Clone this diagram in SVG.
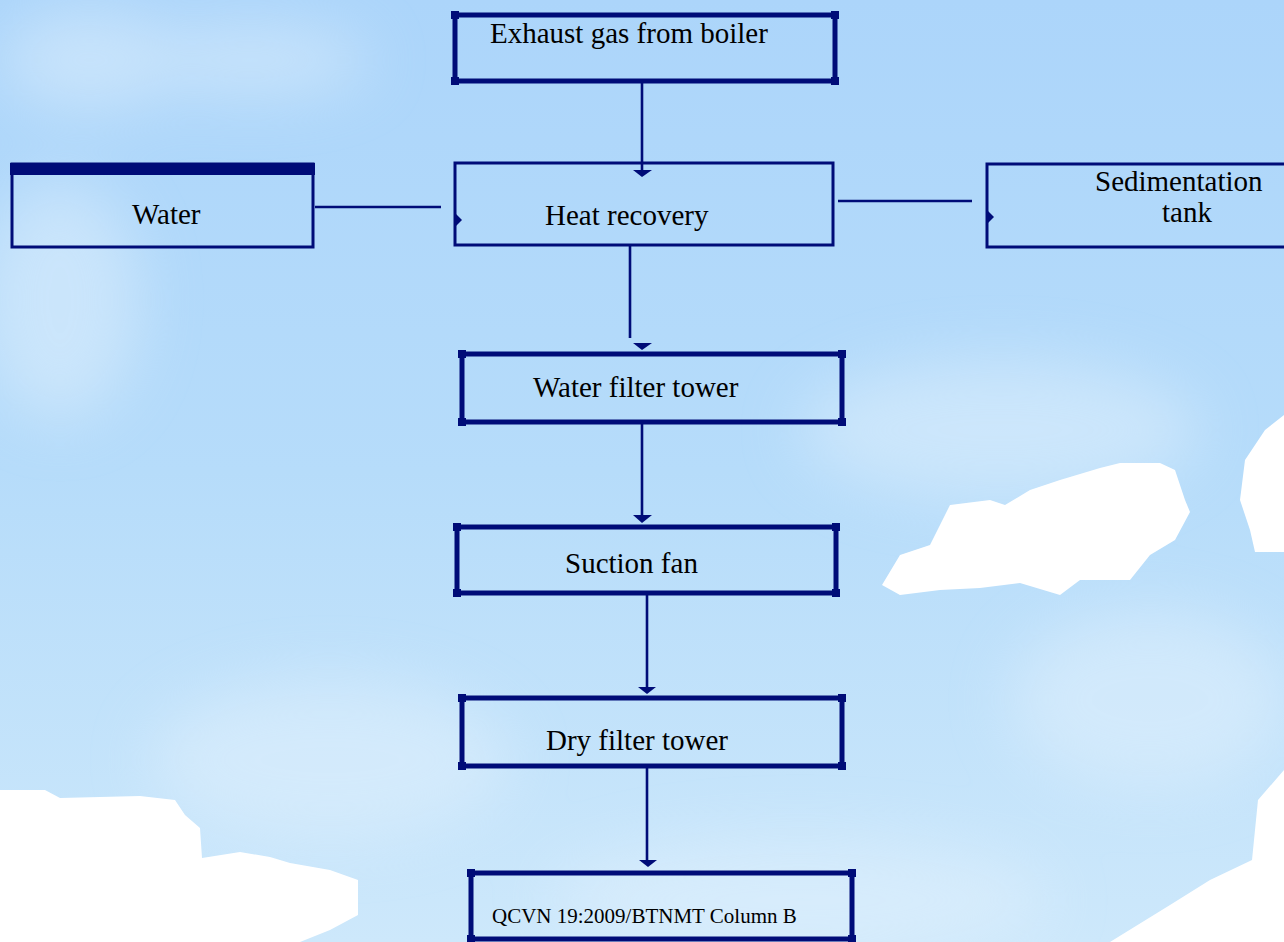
<svg xmlns="http://www.w3.org/2000/svg" width="1284" height="942" viewBox="0 0 1284 942">
<defs>
<linearGradient id="sky" x1="0" y1="0" x2="0" y2="1">
<stop offset="0" stop-color="#acd5fa"/>
<stop offset="0.5" stop-color="#b6dcfa"/>
<stop offset="1" stop-color="#cde8fb"/>
</linearGradient>
<filter id="blur" x="-50%" y="-50%" width="200%" height="200%"><feGaussianBlur stdDeviation="30"/></filter>
<style>
.thick{fill:none;stroke:#000c78;stroke-width:5}
.thin{fill:none;stroke:#000c78;stroke-width:3}
.dot{fill:#000c78}
.line{stroke:#000c78;stroke-width:2.6;fill:none}
.head{fill:#000c78}
.lbl{font-family:"Liberation Serif","Times New Roman",serif;font-size:29px;fill:#000}
.small{font-family:"Liberation Serif","Times New Roman",serif;font-size:21px;fill:#000}
</style>
</defs>
<g id="background">
<rect width="1284" height="942" fill="url(#sky)"/>
<g filter="url(#blur)" fill="#e2f1fd" opacity="0.5">
<ellipse cx="90" cy="60" rx="90" ry="50"/>
<ellipse cx="250" cy="60" rx="120" ry="35"/>
<ellipse cx="60" cy="300" rx="80" ry="120"/>
<ellipse cx="330" cy="760" rx="180" ry="80"/>
<ellipse cx="1000" cy="430" rx="200" ry="70"/>
<ellipse cx="1150" cy="700" rx="140" ry="90"/>
<ellipse cx="800" cy="900" rx="250" ry="60"/>
</g>
<g fill="#ffffff">
<polygon points="0,790 45,790 60,798 100,797 140,796 175,800 185,815 200,828 202,858 240,852 270,857 290,863 330,870 358,880 358,915 330,930 300,942 0,942"/>
<polygon points="882,585 900,555 930,545 950,505 990,500 1005,505 1030,490 1060,480 1100,468 1120,463 1160,463 1175,470 1185,500 1190,512 1175,540 1150,555 1130,580 1080,580 1060,595 1020,583 980,588 940,590 900,595"/>
<polygon points="1284,415 1265,430 1245,460 1240,500 1250,530 1255,552 1284,552"/>
<polygon points="1284,770 1258,800 1252,860 1210,880 1170,905 1110,942 1284,942"/>
</g>
</g>
<g id="connectors">
<line class="line" x1="642" y1="82" x2="642" y2="171"/>
<polygon class="head" points="633,170 652,170 642,177"/>
<line class="line" x1="630" y1="246" x2="630" y2="338"/>
<polygon class="head" points="633,343 652,343 642,350"/>
<line class="line" x1="642" y1="422" x2="642" y2="516"/>
<polygon class="head" points="633,515 652,515 642,523"/>
<line class="line" x1="647" y1="593" x2="647" y2="688"/>
<polygon class="head" points="638,687 656,687 647,694"/>
<line class="line" x1="647" y1="766" x2="647" y2="861"/>
<polygon class="head" points="639,860 657,860 648,867"/>
<line class="line" x1="315" y1="207" x2="441" y2="207"/>
<polygon class="head" points="455,213 455,227 462,220"/>
<line class="line" x1="838" y1="201" x2="972" y2="201"/>
<polygon class="head" points="987,210 987,224 994,217"/>
</g>
<g id="exhaust">
<rect class="thick" x="455" y="15" width="380" height="66"/>
<rect class="dot" x="451" y="11" width="8" height="8"/><rect class="dot" x="831" y="11" width="8" height="8"/>
<rect class="dot" x="451" y="77" width="8" height="8"/><rect class="dot" x="831" y="77" width="8" height="8"/>
<text class="lbl" x="490" y="43">Exhaust gas from boiler</text>
</g>
<g id="water">
<rect class="thin" x="12" y="164" width="301" height="83"/>
<rect class="dot" x="10" y="163" width="305" height="12"/>
<text class="lbl" x="132" y="224">Water</text>
</g>
<g id="heat-recovery">
<rect class="thin" x="455" y="163" width="378" height="82"/>
<text class="lbl" x="545" y="225">Heat recovery</text>
</g>
<g id="sedimentation">
<rect class="thin" x="987" y="164" width="300" height="83"/>
<text class="lbl" x="1095" y="191">Sedimentation</text>
<text class="lbl" x="1162" y="222">tank</text>
</g>
<g id="water-filter">
<rect class="thick" x="462" y="354" width="380" height="68"/>
<rect class="dot" x="458" y="350" width="8" height="8"/><rect class="dot" x="838" y="350" width="8" height="8"/>
<rect class="dot" x="458" y="418" width="8" height="8"/><rect class="dot" x="838" y="418" width="8" height="8"/>
<text class="lbl" x="533" y="397">Water filter tower</text>
</g>
<g id="suction-fan">
<rect class="thick" x="457" y="527" width="379" height="66"/>
<rect class="dot" x="453" y="523" width="8" height="8"/><rect class="dot" x="832" y="523" width="8" height="8"/>
<rect class="dot" x="453" y="589" width="8" height="8"/><rect class="dot" x="832" y="589" width="8" height="8"/>
<text class="lbl" x="565" y="573">Suction fan</text>
</g>
<g id="dry-filter">
<rect class="thick" x="462" y="698" width="380" height="68"/>
<rect class="dot" x="458" y="694" width="8" height="8"/><rect class="dot" x="838" y="694" width="8" height="8"/>
<rect class="dot" x="458" y="762" width="8" height="8"/><rect class="dot" x="838" y="762" width="8" height="8"/>
<text class="lbl" x="546" y="750">Dry filter tower</text>
</g>
<g id="qcvn">
<rect class="thick" x="471" y="873" width="381" height="66"/>
<rect class="dot" x="467" y="869" width="8" height="8"/><rect class="dot" x="848" y="869" width="8" height="8"/>
<rect class="dot" x="467" y="935" width="8" height="8"/><rect class="dot" x="848" y="935" width="8" height="8"/>
<text class="small" x="492" y="923">QCVN 19:2009/BTNMT Column B</text>
</g>
</svg>
